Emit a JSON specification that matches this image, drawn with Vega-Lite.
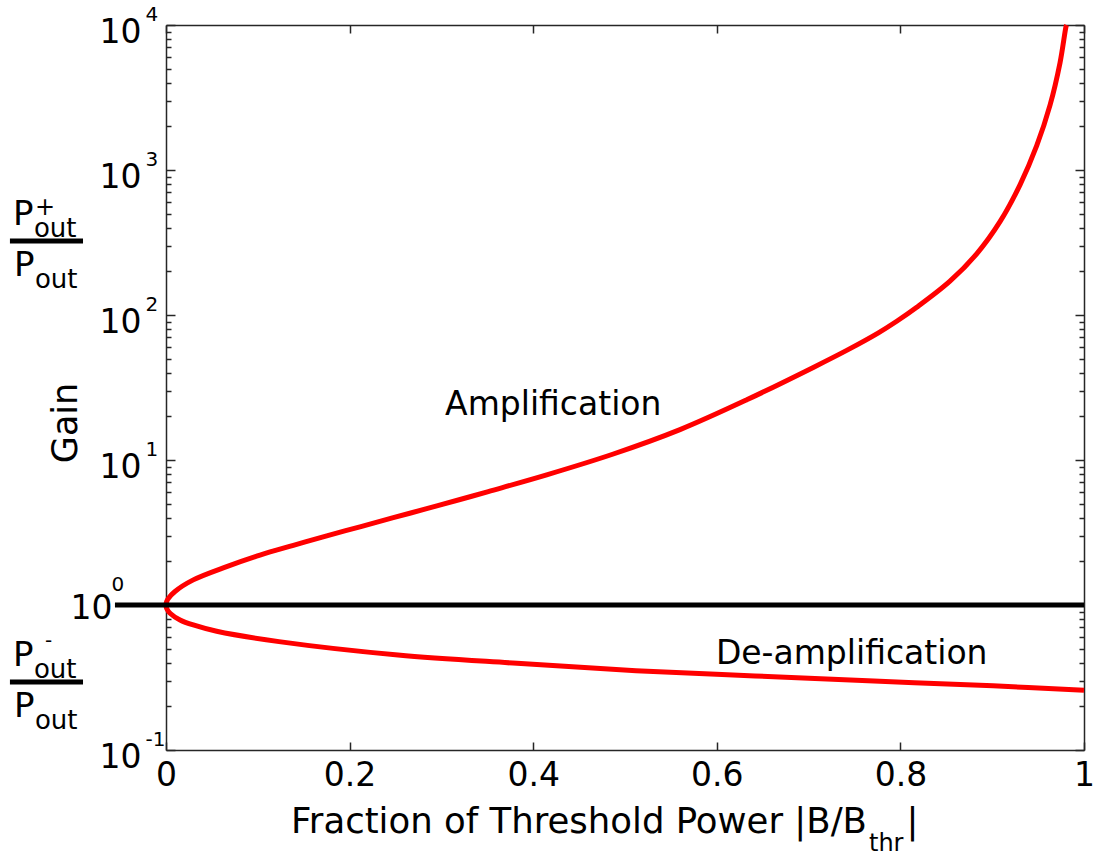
{
  "$schema": "https://vega.github.io/schema/vega-lite/v6.json",
  "width": 918,
  "height": 725,
  "autosize": {"type": "none"},
  "padding": {"left": 166, "top": 25, "right": 12, "bottom": 107},
  "background": "white",
  "config": {
    "view": {"stroke": null},
    "font": "DejaVu Sans",
    "text": {"font": "DejaVu Sans", "color": "black"},
    "axis": {"grid": false, "labelFont": "DejaVu Sans", "labelColor": "black", "labelOverlap": false, "labelFlush": false, "labelBound": false, "domainColor": "#262626", "tickColor": "#262626", "domainWidth": 1.5, "tickWidth": 1.5}
  },
  "datasets": {
    "curve": [
      {"x": 1.0, "g": 0.258},
      {"x": 0.9009, "g": 0.277},
      {"x": 0.7712, "g": 0.299},
      {"x": 0.6416, "g": 0.324},
      {"x": 0.512, "g": 0.352},
      {"x": 0.3824, "g": 0.396},
      {"x": 0.2527, "g": 0.452},
      {"x": 0.1231, "g": 0.559},
      {"x": 0.0552, "g": 0.659},
      {"x": 0.0297, "g": 0.728},
      {"x": 0.0153, "g": 0.789},
      {"x": 0.0044, "g": 0.878},
      {"x": 0.001, "g": 0.939},
      {"x": 0, "g": 1},
      {"x": 0.0008, "g": 1.06},
      {"x": 0.0025, "g": 1.11},
      {"x": 0.0098, "g": 1.24},
      {"x": 0.0297, "g": 1.49},
      {"x": 0.0661, "g": 1.84},
      {"x": 0.1024, "g": 2.21},
      {"x": 0.1387, "g": 2.58},
      {"x": 0.1751, "g": 3.0},
      {"x": 0.2113, "g": 3.46},
      {"x": 0.2476, "g": 4.0},
      {"x": 0.284, "g": 4.62},
      {"x": 0.3203, "g": 5.34},
      {"x": 0.3511, "g": 6.06},
      {"x": 0.4147, "g": 7.9},
      {"x": 0.4873, "g": 11.0},
      {"x": 0.5599, "g": 16.2},
      {"x": 0.6326, "g": 26.0},
      {"x": 0.7051, "g": 43.5},
      {"x": 0.7415, "g": 57},
      {"x": 0.7756, "g": 75},
      {"x": 0.796, "g": 90.5},
      {"x": 0.8178, "g": 113},
      {"x": 0.854, "g": 171},
      {"x": 0.8831, "g": 264},
      {"x": 0.9085, "g": 440},
      {"x": 0.9303, "g": 790},
      {"x": 0.9485, "g": 1470},
      {"x": 0.963, "g": 2800},
      {"x": 0.9739, "g": 5500},
      {"x": 0.9804, "g": 9750},
      {"x": 0.981, "g": 10000}
    ],
    "hline": [{"x": -0.0556, "x2": 1, "g": 1}],
    "notes": [
      {"x": 0.304, "g": 20.4, "t": "Amplification"},
      {"x": 0.599, "g": 0.392, "t": "De-amplification"}
    ],
    "fracs": [
      {"x": -0.17, "x2": -0.0904, "g": 323.7, "s": "+"},
      {"x": -0.17, "x2": -0.0904, "g": 0.2944, "s": "-"}
    ],
    "gain": [{"x": -0.1089, "g": 18, "t": "Gain"}],
    "xtitle": [{"x": 0.7636, "g": 0.02677, "main": "Fraction of Threshold Power |B/B", "sub": "thr", "end": "|"}]
  },
  "resolve": {"axis": {"x": "independent", "y": "independent"}},
  "layer": [
    {
      "data": {"name": "curve"},
      "mark": {"type": "line", "color": "#ff0000", "strokeWidth": 5, "strokeJoin": "round", "interpolate": "catmull-rom", "clip": false},
      "encoding": {
        "x": {"field": "x", "type": "quantitative", "scale": {"domain": [0, 1], "nice": false, "zero": false},
          "axis": {"orient": "bottom", "title": null, "values": [0, 0.2, 0.4, 0.6, 0.8, 1], "labels": false, "ticks": true, "tickSize": -8, "domain": true}},
        "y": {"field": "g", "type": "quantitative", "scale": {"type": "log", "domain": [0.1, 10000], "nice": false},
          "axis": {"orient": "left", "title": null, "labels": false, "ticks": true, "domain": true,
            "values": [0.1, 0.2, 0.3, 0.4, 0.5, 0.6, 0.7, 0.8, 0.9, 1, 2, 3, 4, 5, 6, 7, 8, 9, 10, 20, 30, 40, 50, 60, 70, 80, 90, 100, 200, 300, 400, 500, 600, 700, 800, 900, 1000, 2000, 3000, 4000, 5000, 6000, 7000, 8000, 9000, 10000],
            "tickSize": {"condition": {"test": "abs(log(datum.value)/LN10 - round(log(datum.value)/LN10)) < 0.001", "value": -9}, "value": -5}}},
        "order": {"value": null}
      }
    },
    {
      "data": {"name": "hline"},
      "mark": {"type": "rule", "color": "black", "strokeWidth": 5, "clip": false},
      "encoding": {
        "x": {"field": "x", "type": "quantitative", "scale": {"domain": [0, 1], "nice": false, "zero": false},
          "axis": {"orient": "top", "title": null, "values": [0, 0.2, 0.4, 0.6, 0.8, 1], "labels": false, "ticks": true, "tickSize": -8, "domain": true}},
        "x2": {"field": "x2"},
        "y": {"field": "g", "type": "quantitative", "scale": {"type": "log", "domain": [0.1, 10000], "nice": false},
          "axis": {"orient": "right", "title": null, "labels": false, "ticks": true, "domain": true,
            "values": [0.1, 0.2, 0.3, 0.4, 0.5, 0.6, 0.7, 0.8, 0.9, 1, 2, 3, 4, 5, 6, 7, 8, 9, 10, 20, 30, 40, 50, 60, 70, 80, 90, 100, 200, 300, 400, 500, 600, 700, 800, 900, 1000, 2000, 3000, 4000, 5000, 6000, 7000, 8000, 9000, 10000],
            "tickSize": {"condition": {"test": "abs(log(datum.value)/LN10 - round(log(datum.value)/LN10)) < 0.001", "value": -9}, "value": -5}}}
      }
    },
    {
      "data": {"name": "notes"},
      "mark": {"type": "text", "align": "left", "baseline": "alphabetic", "fontSize": 33, "clip": false},
      "encoding": {
        "x": {"field": "x", "type": "quantitative", "scale": {"domain": [0, 1], "nice": false, "zero": false},
          "axis": {"orient": "bottom", "title": null, "values": [0, 0.2, 0.4, 0.6, 0.8, 1], "labels": true, "ticks": false, "domain": false,
            "labelExpr": "format(datum.value, '~g')", "labelFontSize": 33, "labelPadding": 9}},
        "y": {"field": "g", "type": "quantitative", "scale": {"type": "log", "domain": [0.1, 10000], "nice": false},
          "axis": {"orient": "left", "title": null, "values": [0.1, 1, 10, 100, 1000, 10000], "labels": true, "ticks": false, "domain": false,
            "labelExpr": "'10'", "labelFontSize": 33, "labelAlign": "right", "labelBaseline": "middle",
            "labelPadding": {"condition": {"test": "datum.value == 1", "value": 54}, "value": 25},
            "labelOffset": {"condition": {"test": "datum.value == 1", "value": 3}, "value": 7}}},
        "text": {"field": "t", "type": "nominal"}
      }
    },
    {
      "data": {"name": "fracs"},
      "mark": {"type": "rule", "color": "black", "strokeWidth": 5, "clip": false},
      "encoding": {
        "x": {"field": "x", "type": "quantitative", "scale": {"domain": [0, 1], "nice": false, "zero": false}, "axis": null},
        "x2": {"field": "x2"},
        "y": {"field": "g", "type": "quantitative", "scale": {"type": "log", "domain": [0.1, 10000], "nice": false},
          "axis": {"orient": "left", "title": null, "values": [0.1, 1, 10, 100, 1000, 10000], "labels": true, "ticks": false, "domain": false,
            "labelExpr": "'' + round(log(datum.value)/LN10)", "labelFontSize": 20, "labelAlign": "left", "labelBaseline": "middle",
            "labelPadding": {"condition": {"test": "datum.value == 1", "value": 55}, "value": 21},
            "labelOffset": {"condition": {"test": "datum.value == 1", "value": -21}, "value": -11}}}
      }
    },
    {
      "data": {"name": "fracs"},
      "mark": {"type": "text", "text": "P", "align": "left", "baseline": "alphabetic", "fontSize": 34, "dx": 3, "dy": -16.5, "clip": false},
      "encoding": {
        "x": {"field": "x", "type": "quantitative", "scale": {"domain": [0, 1], "nice": false, "zero": false}, "axis": null},
        "y": {"field": "g", "type": "quantitative", "scale": {"type": "log", "domain": [0.1, 10000], "nice": false}, "axis": null}
      }
    },
    {
      "data": {"name": "fracs"},
      "mark": {"type": "text", "text": "out", "align": "left", "baseline": "alphabetic", "fontSize": 26, "dx": 24, "dy": -4, "clip": false},
      "encoding": {
        "x": {"field": "x", "type": "quantitative", "scale": {"domain": [0, 1], "nice": false, "zero": false}, "axis": null},
        "y": {"field": "g", "type": "quantitative", "scale": {"type": "log", "domain": [0.1, 10000], "nice": false}, "axis": null}
      }
    },
    {
      "data": {"name": "fracs"},
      "mark": {"type": "text", "text": "P", "align": "left", "baseline": "alphabetic", "fontSize": 34, "dx": 4, "dy": 35, "clip": false},
      "encoding": {
        "x": {"field": "x", "type": "quantitative", "scale": {"domain": [0, 1], "nice": false, "zero": false}, "axis": null},
        "y": {"field": "g", "type": "quantitative", "scale": {"type": "log", "domain": [0.1, 10000], "nice": false}, "axis": null}
      }
    },
    {
      "data": {"name": "fracs"},
      "mark": {"type": "text", "text": "out", "align": "left", "baseline": "alphabetic", "fontSize": 26, "dx": 25, "dy": 46.5, "clip": false},
      "encoding": {
        "x": {"field": "x", "type": "quantitative", "scale": {"domain": [0, 1], "nice": false, "zero": false}, "axis": null},
        "y": {"field": "g", "type": "quantitative", "scale": {"type": "log", "domain": [0.1, 10000], "nice": false}, "axis": null}
      }
    },
    {
      "data": {"name": "fracs"},
      "transform": [{"filter": "datum.s == '+'"}],
      "mark": {"type": "text", "align": "left", "baseline": "alphabetic", "fontSize": 24, "dx": 25, "dy": -26, "clip": false},
      "encoding": {
        "x": {"field": "x", "type": "quantitative", "scale": {"domain": [0, 1], "nice": false, "zero": false}, "axis": null},
        "y": {"field": "g", "type": "quantitative", "scale": {"type": "log", "domain": [0.1, 10000], "nice": false}, "axis": null},
        "text": {"field": "s", "type": "nominal"}
      }
    },
    {
      "data": {"name": "fracs"},
      "transform": [{"filter": "datum.s == '-'"}],
      "mark": {"type": "text", "align": "left", "baseline": "alphabetic", "fontSize": 20, "dx": 35, "dy": -35, "clip": false},
      "encoding": {
        "x": {"field": "x", "type": "quantitative", "scale": {"domain": [0, 1], "nice": false, "zero": false}, "axis": null},
        "y": {"field": "g", "type": "quantitative", "scale": {"type": "log", "domain": [0.1, 10000], "nice": false}, "axis": null},
        "text": {"field": "s", "type": "nominal"}
      }
    },
    {
      "data": {"name": "gain"},
      "mark": {"type": "text", "align": "center", "baseline": "middle", "angle": 270, "fontSize": 35, "clip": false},
      "encoding": {
        "x": {"field": "x", "type": "quantitative", "scale": {"domain": [0, 1], "nice": false, "zero": false}, "axis": null},
        "y": {"field": "g", "type": "quantitative", "scale": {"type": "log", "domain": [0.1, 10000], "nice": false}, "axis": null},
        "text": {"field": "t", "type": "nominal"}
      }
    },
    {
      "data": {"name": "xtitle"},
      "mark": {"type": "text", "align": "right", "baseline": "alphabetic", "fontSize": 35.5, "clip": false},
      "encoding": {
        "x": {"field": "x", "type": "quantitative", "scale": {"domain": [0, 1], "nice": false, "zero": false}, "axis": null},
        "y": {"field": "g", "type": "quantitative", "scale": {"type": "log", "domain": [0.1, 10000], "nice": false}, "axis": null},
        "text": {"field": "main", "type": "nominal"}
      }
    },
    {
      "data": {"name": "xtitle"},
      "mark": {"type": "text", "align": "left", "baseline": "alphabetic", "fontSize": 24, "dx": 2, "dy": 18, "clip": false},
      "encoding": {
        "x": {"field": "x", "type": "quantitative", "scale": {"domain": [0, 1], "nice": false, "zero": false}, "axis": null},
        "y": {"field": "g", "type": "quantitative", "scale": {"type": "log", "domain": [0.1, 10000], "nice": false}, "axis": null},
        "text": {"field": "sub", "type": "nominal"}
      }
    },
    {
      "data": {"name": "xtitle"},
      "mark": {"type": "text", "align": "left", "baseline": "alphabetic", "fontSize": 35.5, "dx": 39.5, "dy": 0, "clip": false},
      "encoding": {
        "x": {"field": "x", "type": "quantitative", "scale": {"domain": [0, 1], "nice": false, "zero": false}, "axis": null},
        "y": {"field": "g", "type": "quantitative", "scale": {"type": "log", "domain": [0.1, 10000], "nice": false}, "axis": null},
        "text": {"field": "end", "type": "nominal"}
      }
    }
  ]
}
